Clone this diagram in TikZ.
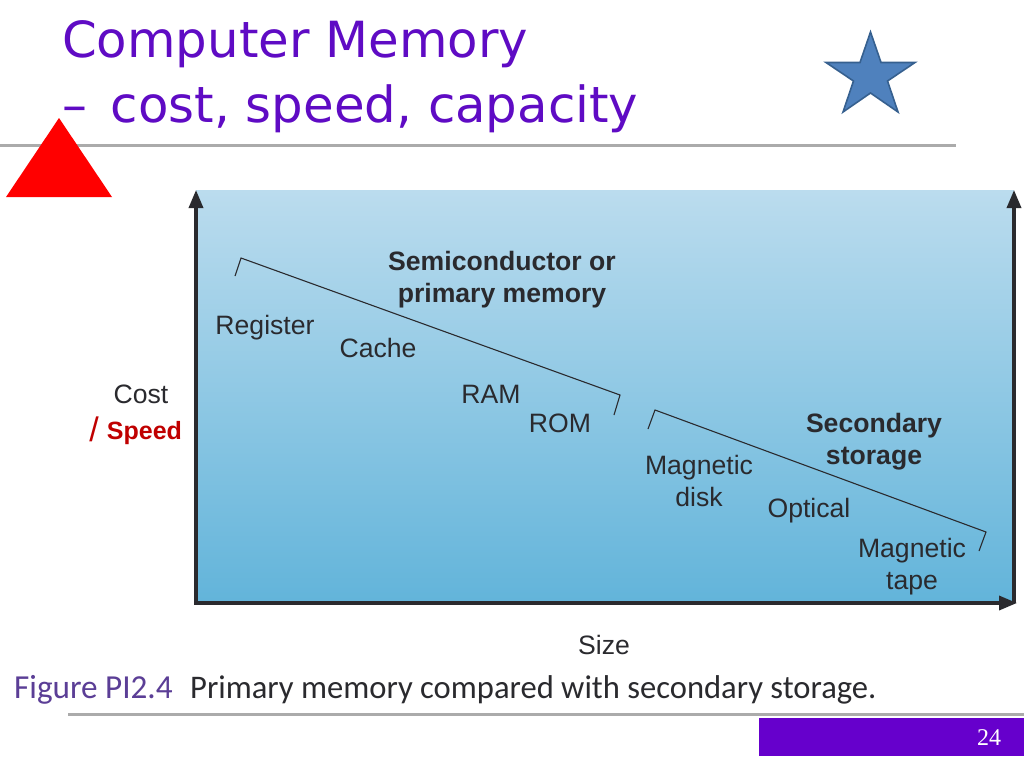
\documentclass[tikz,border=0pt]{standalone}
\usepackage{fontspec}
\setmainfont{Liberation Sans}
\newfontfamily\titlefont{DejaVu Sans}
\newfontfamily\capfont[FakeStretch=0.987]{Carlito}
\newfontfamily\numfont{Liberation Serif}
\usetikzlibrary{arrows.meta}
\definecolor{titlepurple}{HTML}{5F0BC4}
\definecolor{barpurple}{HTML}{6600CC}
\definecolor{rulegray}{HTML}{ABABAB}
\definecolor{skytop}{HTML}{BBDCEE}
\definecolor{skybot}{HTML}{62B4DA}
\definecolor{ink}{HTML}{2A2A2E}
\definecolor{figpurple}{HTML}{5B3E96}
\definecolor{speedred}{HTML}{C00000}
\definecolor{starfill}{HTML}{4F81BD}
\definecolor{starline}{HTML}{36608F}
\tikzset{
 x=1pt,y=-1pt,
 titletext/.style={anchor=base west,inner sep=0pt,text=titlepurple,font=\titlefont\fontsize{49.8}{50}\selectfont},
 lab/.style={inner sep=0pt,text=ink,align=center,font=\fontsize{26.6}{32}\selectfont},
 blab/.style={inner sep=0pt,text=ink,align=center,font=\bfseries\fontsize{26.6}{32}\selectfont},
 axis/.style={draw=ink,line width=3.4pt,-{Triangle[length=18pt,width=14pt]}},
 bracket/.style={draw=ink,line width=1.1pt,line join=miter},
 rulel/.style={draw=rulegray,line width=3pt},
}
\begin{document}
\begin{tikzpicture}
\useasboundingbox (0,0) rectangle (1024,768);
\fill[white] (0,0) rectangle (1024,768);
\node[titletext] (t1) at (62,57) {Computer Memory};
\node[titletext] (t2) at (62,122) {–\hspace{8pt} cost, speed, capacity};
\draw[rulel] (0,145) -- (956,145);
\draw[rulel] (68,714) -- (1024,714);
\node[draw=none,fill=barpurple,minimum width=265pt,minimum height=38pt,inner sep=0pt,anchor=north west] (bar) at (759,718) {};
\node[inner sep=0pt,text=white,font=\numfont\fontsize{24}{24}\selectfont] (num) at (989,738) {24};
\fill[red] (59,118) -- (112,197) -- (6,197) -- cycle;
\draw[fill=starfill,draw=starline,line width=1.6pt,line join=miter] (870.5,32) -- (881,62.5) -- (915,62.5) -- (887.5,81) -- (898,112) -- (870.5,93) -- (843,112) -- (853.5,81) -- (826,62.5) -- (860,62.5) -- cycle;
\shade[top color=skytop,bottom color=skybot] (196,190) rectangle (1014,603);
\coordinate (o) at (196,603);
\coordinate (ytop) at (196,190);
\coordinate (xr) at (1017,603);
\coordinate (rb) at (1014,603);
\coordinate (rt) at (1014,190);
\coordinate (ol) at (194.3,603);
\draw[axis] (o) -- (ytop);
\draw[axis] (rb) -- (rt);
\draw[axis] (ol) -- (xr);
\coordinate (a1) at (235,276);\coordinate (a2) at (241,258);\coordinate (a3) at (620,395);\coordinate (a4) at (614,415);
\coordinate (b1) at (648,429);\coordinate (b2) at (655,410);\coordinate (b3) at (986,532);\coordinate (b4) at (979,551);
\draw[bracket] (a1) -- (a2) -- (a3) -- (a4);
\draw[bracket] (b1) -- (b2) -- (b3) -- (b4);
\node[blab] (semi) at (502,280) {Semiconductor or\\primary memory};
\node[lab] (reg) at (265,328) {Register};
\node[lab] (cache) at (378,348) {Cache};
\node[lab] (ram) at (491,394) {RAM};
\node[lab] (rom) at (560,423) {ROM};
\node[lab] (disk) at (699,481) {Magnetic\\disk};
\node[blab] (sec) at (874,442) {Secondary\\storage};
\node[lab] (opt) at (809,511) {Optical};
\node[lab] (tape) at (912,567) {Magnetic\\tape};
\node[lab] (cost) at (141,394) {Cost};
\node[inner sep=0pt,text=speedred,font=\fontsize{34}{34}\selectfont] (slash) at (94,429) {/};
\node[inner sep=0pt,text=speedred,font=\bfseries\fontsize{25}{25}\selectfont] (speed) at (144.5,433.5) {Speed};
\node[lab] (size) at (604,645) {Size};
\node[anchor=base west,inner sep=0pt,text=figpurple,font=\capfont\fontsize{33.6}{34}\selectfont] (figl) at (14,698) {Figure PI2.4};
\node[anchor=base west,inner sep=0pt,text=ink,font=\capfont\fontsize{33}{34}\selectfont] (cap) at (190,698) {Primary memory compared with secondary storage.};
\end{tikzpicture}
\end{document}
